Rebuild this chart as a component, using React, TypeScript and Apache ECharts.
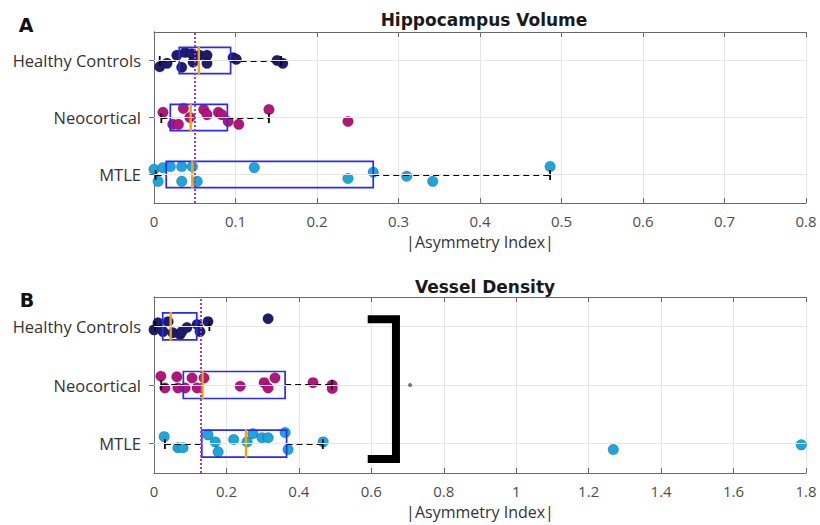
import React, { useEffect, useRef } from "react";
import * as echarts from "echarts";

// ---------- data ----------
const categories = ["MTLE", "Neocortical", "Healthy Controls"]; // y = 1, 2, 3
const catPos = [1, 2, 3];

// Panel A: Hippocampus Volume  (x value, vertical jitter offset)
const hvHealthyX = [0.007, 0.016, 0.028, 0.034, 0.038, 0.046, 0.048, 0.056, 0.065, 0.065, 0.097, 0.101, 0.151, 0.158];
const hvHealthyJ = [-0.11, -0.05, 0.09, -0.12, 0.14, 0.12, -0.03, 0.09, 0.09, -0.05, 0.05, 0.02, 0.0, -0.05];
const hvNeoX = [0.011, 0.023, 0.03, 0.036, 0.044, 0.061, 0.065, 0.079, 0.083, 0.091, 0.104, 0.141, 0.238];
const hvNeoJ = [0.09, -0.12, -0.12, 0.16, 0.0, 0.14, 0.05, 0.09, 0.05, -0.07, -0.12, 0.14, -0.07];
const hvMtleX = [0.0, 0.005, 0.011, 0.02, 0.034, 0.034, 0.047, 0.053, 0.123, 0.238, 0.269, 0.31, 0.342, 0.486];
const hvMtleJ = [0.09, -0.12, 0.12, 0.14, 0.14, -0.12, 0.14, -0.12, 0.12, -0.07, 0.04, -0.03, -0.12, 0.14];
// box stats: [category y, lower whisker, q1, median, q3, upper whisker]
const hvBoxes = [
  [3, 0.007, 0.031, 0.055, 0.094, 0.156],
  [2, 0.009, 0.02, 0.045, 0.09, 0.141],
  [1, 0.002, 0.015, 0.047, 0.269, 0.486],
];
const hvRef = 0.049;

// Panel B: Vessel Density
const vdHealthyX = [0.0, 0.011, 0.025, 0.039, 0.052, 0.072, 0.077, 0.091, 0.119, 0.127, 0.149, 0.315];
const vdHealthyJ = [-0.06, 0.06, -0.09, 0.08, -0.11, -0.14, -0.09, -0.02, 0.03, -0.09, 0.08, 0.13];
const vdNeoX = [0.019, 0.03, 0.063, 0.066, 0.086, 0.105, 0.119, 0.138, 0.238, 0.304, 0.315, 0.334, 0.439, 0.492, 0.492];
const vdNeoJ = [0.15, -0.05, 0.14, -0.05, -0.05, 0.12, -0.05, 0.12, -0.02, 0.04, -0.05, 0.12, 0.04, 0.0, -0.06];
const vdMtleX = [0.028, 0.066, 0.08, 0.149, 0.169, 0.177, 0.22, 0.257, 0.273, 0.298, 0.315, 0.362, 0.37, 0.467, 1.268, 1.787];
const vdMtleJ = [0.12, -0.07, -0.07, 0.15, 0.03, -0.14, 0.07, 0.03, 0.17, 0.1, 0.1, 0.19, -0.1, 0.03, -0.1, -0.02];
const vdBoxes = [
  [3, 0.003, 0.024, 0.046, 0.118, 0.153],
  [2, 0.02, 0.081, 0.134, 0.362, 0.491],
  [1, 0.03, 0.132, 0.254, 0.366, 0.466],
];
const vdRef = 0.128;

// significance bracket and marker (panel B)
const bracketX = [0.59, 0.668, 0.668, 0.59];
const bracketY = [3.12, 3.12, 0.74, 0.74];
const sigMark = [0.707, 2.0];

const xTicksA = { min: 0, max: 0.8, interval: 0.1 };
const xTicksB = { min: 0, max: 1.8, interval: 0.2 };

// ---------- styles ----------
const C_HEALTHY = "#1e1c6e";
const C_NEO = "#b3157c";
const C_MTLE = "#1ba6de";
const C_BOX = "#2a2af5";
const C_MED = "#f5a700";
const C_REF = "#9440d8";
const AXIS = "#6a6a6a";
const GRIDC = "#e6e6e6";
const FONT = '"Open Sans", "DejaVu Sans", sans-serif';
const TFONT = '"DejaVu Sans", sans-serif';

const zip = (xs: number[], js: number[], y: number) => xs.map((x, i) => [x, y + js[i]]);

function axisPair(gridIndex: number, t: { min: number; max: number; interval: number }) {
  return [
    {
      type: "value",
      gridIndex,
      position: "bottom",
      min: t.min,
      max: t.max,
      interval: t.interval,
      name: "|Asymmetry Index|",
      nameLocation: "middle",
      nameGap: 30,
      nameTextStyle: { fontFamily: FONT, fontSize: 16, color: "#333", lineHeight: 18 },
      axisLine: { show: true, lineStyle: { color: AXIS, width: 1 } },
      axisTick: { show: true, inside: true, length: 5, lineStyle: { color: AXIS } },
      axisLabel: {
        fontFamily: FONT,
        fontSize: 15,
        color: "#4d4d4d",
        margin: 10,
        lineHeight: 16,
        formatter: (v: number) => String(Number(v.toFixed(2))),
      },
      splitLine: { show: true, lineStyle: { color: GRIDC, width: 1 } },
    },
    {
      type: "value",
      gridIndex,
      position: "top",
      min: t.min,
      max: t.max,
      interval: t.interval,
      axisLine: { show: true, lineStyle: { color: AXIS, width: 1 } },
      axisTick: { show: true, inside: true, length: 5, lineStyle: { color: AXIS } },
      axisLabel: { show: false },
      splitLine: { show: false },
    },
  ];
}

function yPair(gridIndex: number) {
  return [
    {
      type: "value",
      gridIndex,
      position: "left",
      min: 0.5,
      max: 3.5,
      axisLine: { show: true, lineStyle: { color: AXIS, width: 1 } },
      axisTick: { show: true, inside: true, length: 5, customValues: catPos, lineStyle: { color: AXIS } },
      axisLabel: {
        customValues: catPos,
        fontFamily: FONT,
        fontSize: 16.5,
        color: "#333",
        margin: 13,
        formatter: (v: number) => categories[Math.round(v) - 1] || "",
      },
      splitLine: { show: false },
    },
    {
      type: "value",
      gridIndex,
      position: "right",
      min: 0.5,
      max: 3.5,
      axisLine: { show: true, lineStyle: { color: AXIS, width: 1 } },
      axisTick: { show: true, inside: true, length: 5, customValues: catPos, lineStyle: { color: AXIS } },
      axisLabel: { show: false },
      splitLine: { show: false },
    },
  ];
}

function boxSeries(xAxisIndex: number, yAxisIndex: number, boxes: number[][]) {
  return {
    type: "custom",
    xAxisIndex,
    yAxisIndex,
    z: 4,
    data: boxes,
    encode: { x: [1, 2, 3, 4, 5], y: 0 },
    renderItem: (params: any, api: any) => {
      const y = api.value(0);
      const lo = api.coord([api.value(1), y]);
      const q1 = api.coord([api.value(2), y]);
      const md = api.coord([api.value(3), y]);
      const q3 = api.coord([api.value(4), y]);
      const hi = api.coord([api.value(5), y]);
      const hh = api.size([0, 0.23])[1];
      const yc = Math.round(lo[1]);
      const cap = 5;
      const dash = { stroke: "#000", lineWidth: 1.8, lineDash: [6, 4], fill: null };
      const solid = { stroke: "#000", lineWidth: 1.8, fill: null };
      return {
        type: "group",
        children: [
          { type: "line", shape: { x1: lo[0], y1: yc, x2: q1[0], y2: yc }, style: dash },
          { type: "line", shape: { x1: q3[0], y1: yc, x2: hi[0], y2: yc }, style: dash },
          { type: "line", shape: { x1: lo[0], y1: yc - cap, x2: lo[0], y2: yc + cap }, style: solid },
          { type: "line", shape: { x1: hi[0], y1: yc - cap, x2: hi[0], y2: yc + cap }, style: solid },
          {
            type: "rect",
            shape: { x: q1[0], y: q1[1] - hh, width: q3[0] - q1[0], height: 2 * hh },
            style: { fill: null, stroke: C_BOX, lineWidth: 1.7 },
          },
          {
            type: "line",
            shape: { x1: md[0], y1: md[1] - hh - 1, x2: md[0], y2: md[1] + hh + 1 },
            style: { stroke: C_MED, lineWidth: 2.4 },
          },
        ],
      };
    },
  };
}

function pts(xAxisIndex: number, yAxisIndex: number, name: string, color: string, data: number[][]) {
  return {
    type: "scatter",
    name,
    xAxisIndex,
    yAxisIndex,
    z: 3,
    symbolSize: 10.5,
    itemStyle: { color, borderColor: "rgba(0,0,0,0.35)", borderWidth: 0.6, opacity: 1 },
    data,
  };
}

function refLines(xAxisIndex: number, yAxisIndex: number, ref: number) {
  return {
    type: "line",
    xAxisIndex,
    yAxisIndex,
    z: 2,
    data: [],
    markLine: {
      silent: true,
      symbol: "none",
      label: { show: false },
      data: [
        { yAxis: 1, lineStyle: { color: GRIDC, width: 1, type: "solid" } },
        { yAxis: 2, lineStyle: { color: GRIDC, width: 1, type: "solid" } },
        { yAxis: 3, lineStyle: { color: GRIDC, width: 1, type: "solid" } },
        { xAxis: ref, lineStyle: { color: C_REF, width: 2, type: [2, 2] } },
      ],
    },
  };
}

export default function App() {
  const ref = useRef<HTMLDivElement>(null);
  useEffect(() => {
    if (!ref.current) return;
    const chart = echarts.init(ref.current, null, { renderer: "svg" });
    const option: any = {
      animation: false,
      backgroundColor: "#ffffff",
      title: [
        {
          text: "Hippocampus Volume",
          left: 479,
          top: 6,
          textAlign: "center",
          textStyle: { fontFamily: TFONT, fontWeight: "bold", fontSize: 17, color: "#1a1a1a" },
        },
        {
          text: "Vessel Density",
          left: 480,
          top: 273,
          textAlign: "center",
          textStyle: { fontFamily: TFONT, fontWeight: "bold", fontSize: 17, color: "#1a1a1a" },
        },
      ],
      graphic: [
        { type: "text", x: 26, y: 25, style: { text: "A", font: 'bold 19px "DejaVu Sans", sans-serif', fill: "#111", align: "center", verticalAlign: "middle" } },
        { type: "text", x: 27, y: 300, style: { text: "B", font: 'bold 19px "DejaVu Sans", sans-serif', fill: "#111", align: "center", verticalAlign: "middle" } },
      ],
      grid: [
        { left: 154, top: 32, width: 652, height: 171 },
        { left: 154, top: 297, width: 652, height: 176 },
      ],
      xAxis: [...axisPair(0, xTicksA), ...axisPair(1, xTicksB)],
      yAxis: [...yPair(0), ...yPair(1)],
      series: [
        refLines(0, 0, hvRef),
        pts(0, 0, "Healthy Controls", C_HEALTHY, zip(hvHealthyX, hvHealthyJ, 3)),
        pts(0, 0, "Neocortical", C_NEO, zip(hvNeoX, hvNeoJ, 2)),
        pts(0, 0, "MTLE", C_MTLE, zip(hvMtleX, hvMtleJ, 1)),
        boxSeries(0, 0, hvBoxes),

        refLines(2, 2, vdRef),
        pts(2, 2, "Healthy Controls", C_HEALTHY, zip(vdHealthyX, vdHealthyJ, 3)),
        pts(2, 2, "Neocortical", C_NEO, zip(vdNeoX, vdNeoJ, 2)),
        pts(2, 2, "MTLE", C_MTLE, zip(vdMtleX, vdMtleJ, 1)),
        boxSeries(2, 2, vdBoxes),
        {
          type: "line",
          xAxisIndex: 2,
          yAxisIndex: 2,
          z: 5,
          symbol: "none",
          lineStyle: { color: "#000", width: 8, join: "miter", cap: "butt" },
          data: bracketX.map((x, i) => [x, bracketY[i]]),
        },
        {
          type: "scatter",
          xAxisIndex: 2,
          yAxisIndex: 2,
          z: 5,
          symbolSize: 4,
          itemStyle: { color: "#555" },
          data: [sigMark],
        },
      ],
    };
    chart.setOption(option);
    return () => chart.dispose();
  }, []);
  return (
    <div
      ref={ref}
      style={{ position: "absolute", left: 0, top: 0, width: 820, height: 525, background: "#fff" }}
    />
  );
}
